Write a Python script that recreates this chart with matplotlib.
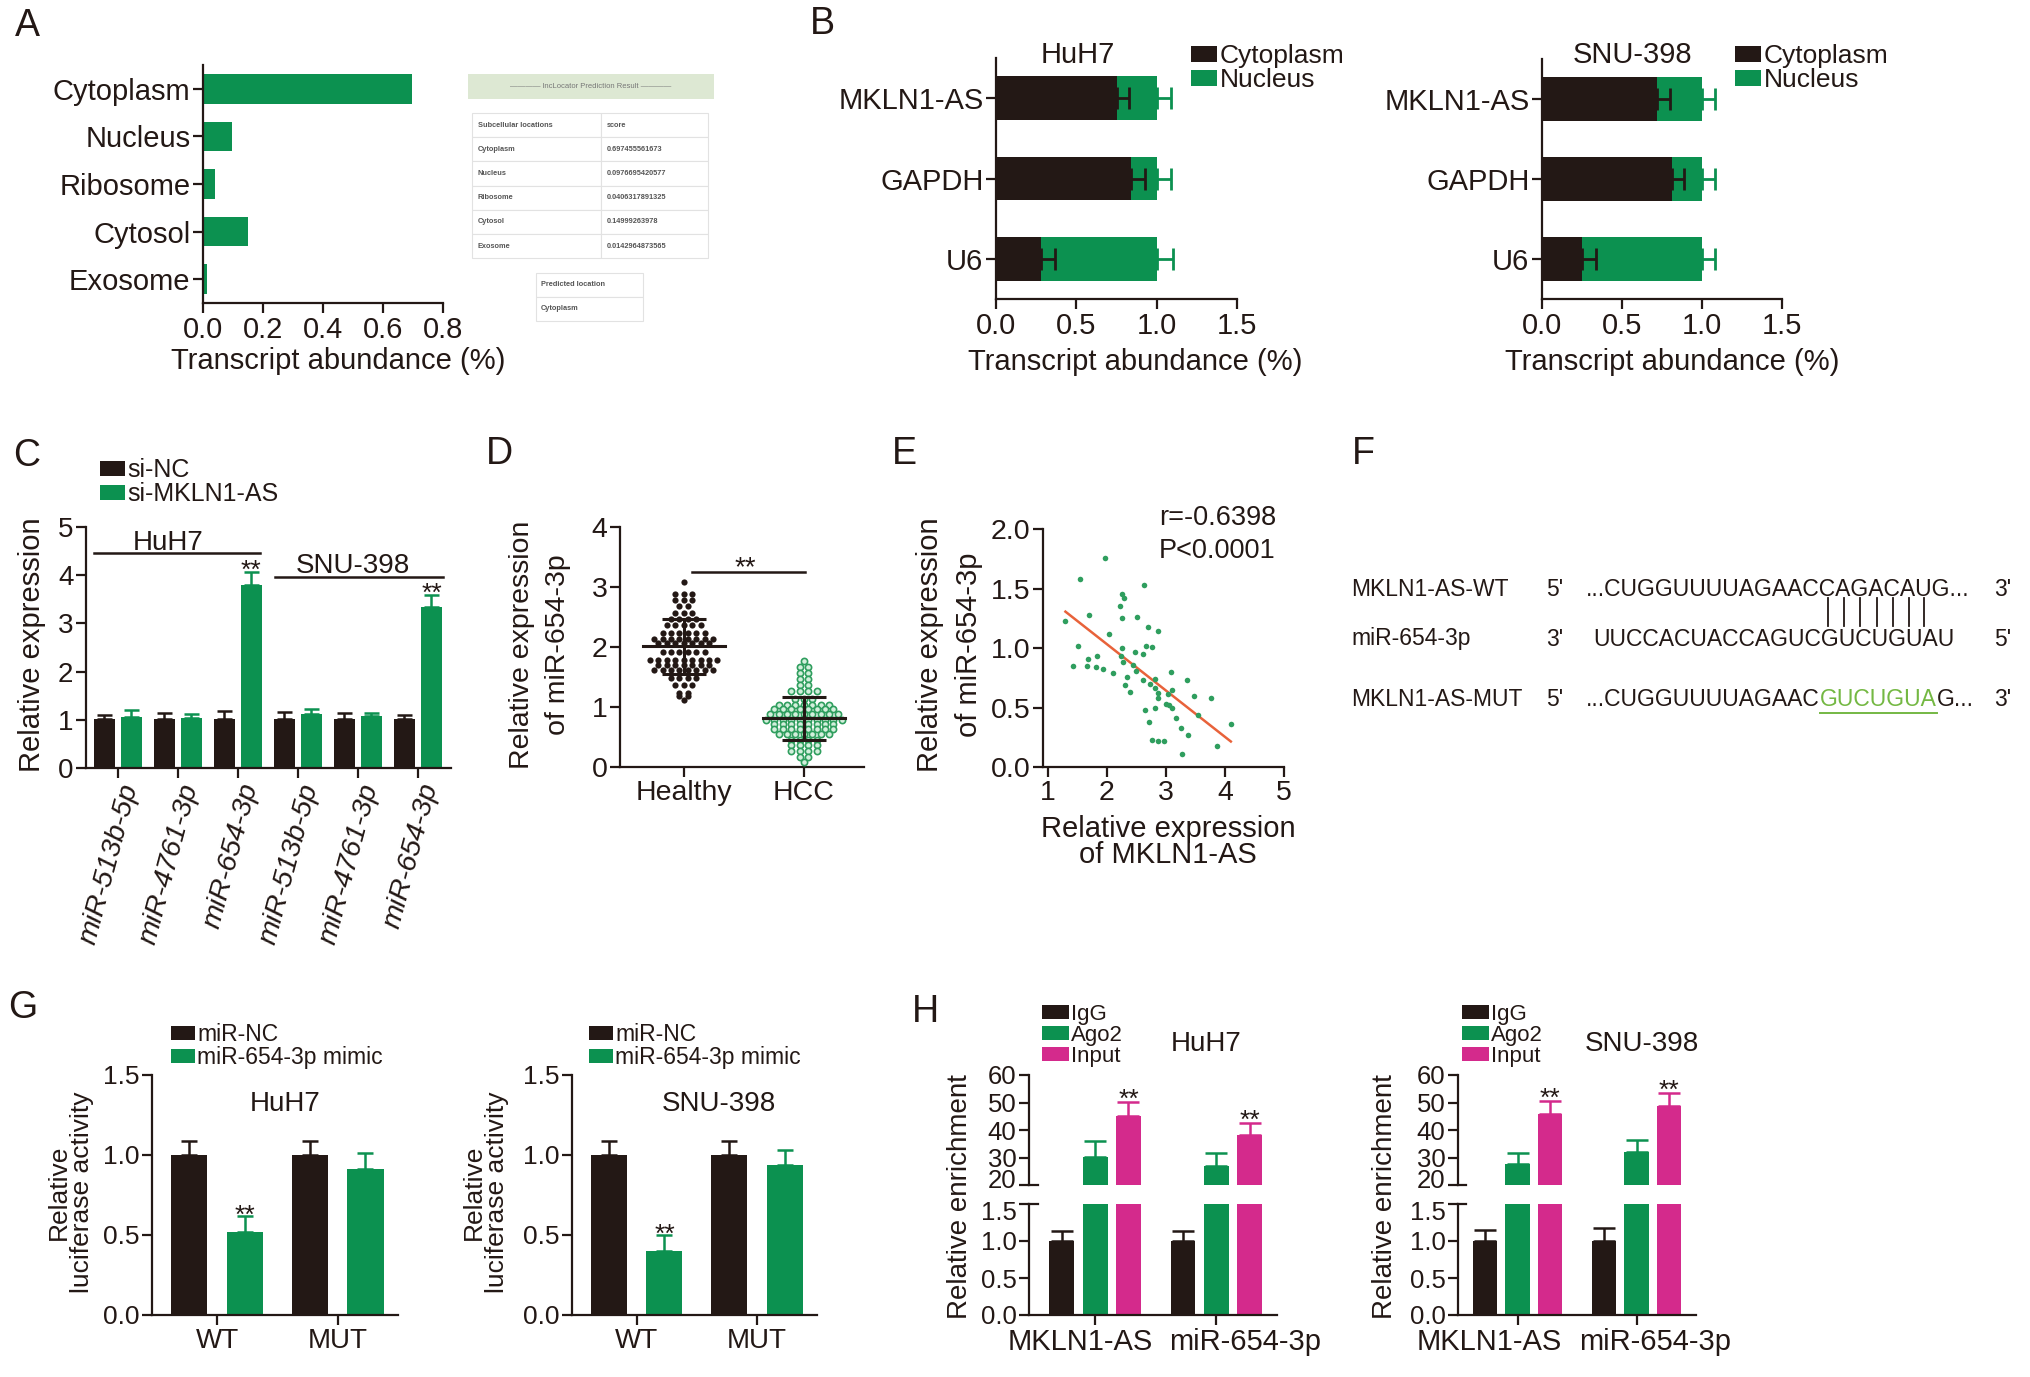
import numpy as np
import matplotlib
matplotlib.use('Agg')
import matplotlib.pyplot as plt
from matplotlib.patches import Rectangle, Patch
from matplotlib.ticker import FormatStrFormatter
from matplotlib.transforms import ScaledTranslation

W, H = 2031, 1377
INK = '#231815'
GREEN = '#0c9150'
MAGENTA = '#d42a8c'
LIME = '#74b843'
DOT_GREEN = '#2f9e5e'
SANS = 'Liberation Sans'

plt.rcParams['font.family'] = [SANS, 'DejaVu Sans']
plt.rcParams['font.size'] = 19
plt.rcParams['axes.linewidth'] = 1.6
plt.rcParams['axes.edgecolor'] = INK
plt.rcParams['text.color'] = INK
plt.rcParams['axes.labelcolor'] = INK
plt.rcParams['xtick.color'] = INK
plt.rcParams['ytick.color'] = INK

# ---------------- data ----------------
# A  lncLocator prediction
loc_names = ['Cytoplasm', 'Nucleus', 'Ribosome', 'Cytosol', 'Exosome']
loc_scores = [0.697455561673, 0.0976695420577, 0.0406317891325, 0.14999263978, 0.0142964873565]

# B  subcellular fractionation
frac_genes = ['MKLN1-AS', 'GAPDH', 'U6']
huh7_cyto = [0.75, 0.84, 0.28]
huh7_cyto_err = [0.08, 0.09, 0.09]
huh7_nuc = [0.25, 0.16, 0.72]
huh7_nuc_err = [0.09, 0.09, 0.10]
snu_cyto = [0.72, 0.81, 0.25]
snu_cyto_err = [0.08, 0.08, 0.085]
snu_nuc = [0.28, 0.19, 0.75]
snu_nuc_err = [0.08, 0.08, 0.08]

# C  miRNA expression after knockdown
mir_names = ['miR-513b-5p', 'miR-4761-3p', 'miR-654-3p', 'miR-513b-5p', 'miR-4761-3p', 'miR-654-3p']
sinc_expr = [1.02, 1.02, 1.02, 1.02, 1.02, 1.02]
sinc_err = [0.07, 0.13, 0.16, 0.14, 0.13, 0.07]
simk_expr = [1.06, 1.04, 3.79, 1.12, 1.08, 3.35]
simk_err = [0.14, 0.08, 0.27, 0.10, 0.07, 0.24]

# D  miR-654-3p in tissues (rows of the dot plot)
healthy_levels = [3.09, 2.88, 2.78, 2.68, 2.57, 2.46, 2.37, 2.24, 2.14, 2.06, 1.92, 1.79, 1.70, 1.62, 1.48, 1.37, 1.24, 1.18, 1.11]
healthy_counts = [1, 3, 3, 2, 3, 4, 5, 6, 8, 7, 6, 9, 7, 8, 4, 3, 2, 2, 1]
hcc_levels = [1.77, 1.66, 1.56, 1.46, 1.37, 1.27, 1.14, 1.03, 0.96, 0.88, 0.79, 0.72, 0.63, 0.55, 0.45, 0.37, 0.26, 0.17, 0.09]
hcc_counts = [1, 2, 2, 2, 2, 4, 3, 7, 8, 9, 10, 8, 8, 7, 4, 4, 4, 2, 1]
healthy_mean, healthy_sd = 2.01, 0.46
hcc_mean, hcc_sd = 0.81, 0.36

# E  correlation
e_x = [1.97, 1.54, 2.63, 2.25, 2.29, 2.22, 1.70, 2.51, 2.25, 1.30, 2.69, 2.87, 2.03, 1.51, 2.67,
       2.77, 2.25, 2.48, 2.62, 1.69, 1.83, 2.24, 2.28, 1.42, 1.67, 1.82, 1.93, 2.10, 2.44, 2.49,
       3.08, 2.35, 2.61, 2.82, 3.35, 2.73, 2.30, 2.82, 3.11, 2.39, 2.86, 3.03, 3.48, 3.76, 2.86,
       3.00, 3.06, 3.11, 2.82, 2.65, 3.54, 3.17, 2.72, 4.10, 3.25, 3.37, 2.77, 2.87, 2.97, 3.87, 3.28]
e_y = [1.76, 1.58, 1.53, 1.45, 1.42, 1.35, 1.28, 1.26, 1.25, 1.23, 1.18, 1.14, 1.12, 1.02, 1.02,
       1.01, 1.00, 0.97, 0.95, 0.91, 0.93, 0.93, 0.88, 0.85, 0.85, 0.84, 0.82, 0.79, 0.86, 0.81,
       0.80, 0.76, 0.73, 0.74, 0.73, 0.70, 0.69, 0.66, 0.65, 0.63, 0.62, 0.61, 0.60, 0.58, 0.58,
       0.53, 0.52, 0.50, 0.50, 0.48, 0.44, 0.41, 0.38, 0.36, 0.33, 0.27, 0.23, 0.22, 0.22, 0.18, 0.11]

# F  binding site
wt_pre, wt_site, wt_post = '...CUGGUUUUAGAAC', 'CAGACAU', 'G...'
mut_site = 'GUCUGUA'
mir_seq = 'UUCCACUACCAGUCGUCUGUAU'

# G  luciferase
luc_groups = ['WT', 'MUT']
huh7_mirnc, huh7_mirnc_err = [1.0, 1.0], [0.09, 0.09]
huh7_mimic, huh7_mimic_err = [0.52, 0.91], [0.10, 0.10]
snu_mirnc, snu_mirnc_err = [1.0, 1.0], [0.09, 0.09]
snu_mimic, snu_mimic_err = [0.40, 0.94], [0.10, 0.09]

# H  RIP
rip_targets = ['MKLN1-AS', 'miR-654-3p']
huh7_igg, huh7_igg_err = [1.0, 1.0], [0.13, 0.14]
huh7_ago2, huh7_ago2_err = [30.3, 26.9], [5.8, 4.6]
huh7_input, huh7_input_err = [45.2, 38.2], [5.1, 4.5]
snu_igg, snu_igg_err = [1.0, 1.0], [0.15, 0.17]
snu_ago2, snu_ago2_err = [27.5, 32.0], [4.3, 4.5]
snu_input, snu_input_err = [45.8, 48.8], [4.6, 4.6]

# ---------------- helpers ----------------
fig = plt.figure(figsize=(W / 100, H / 100), dpi=100)
ov = fig.add_axes([0, 0, 1, 1])
ov.set_xlim(0, W)
ov.set_ylim(H, 0)
ov.axis('off')


def px_axes(x0, y0, x1, y1):
    return fig.add_axes([x0 / W, 1 - y1 / H, (x1 - x0) / W, (y1 - y0) / H])


def clean(ax, size=19):
    ax.spines[['top', 'right']].set_visible(False)
    ax.tick_params(width=1.6, length=7, pad=2, labelsize=size)


def put_label(ax, which, text, cx, cy, **kw):
    bb = ax.get_position()
    fx = (cx / W - bb.x0) / bb.width
    fy = ((1 - cy / H) - bb.y0) / bb.height
    if which == 'y':
        ax.set_ylabel(text, va='center', ha='center', multialignment='center', **kw)
        ax.yaxis.set_label_coords(fx, fy)
    else:
        ax.set_xlabel(text, va='center', ha='center', multialignment='center', **kw)
        ax.xaxis.set_label_coords(fx, fy)


def patch_legend(labels, colors, x, y, size, spacing=0.0, hl=0.9, hh=0.55):
    handles = [Patch(facecolor=c, edgecolor='none') for c in colors]
    fig.legend(handles, labels, loc='upper left', bbox_to_anchor=(x / W, 1 - y / H),
               frameon=False, borderpad=0, borderaxespad=0, handlelength=hl,
               handleheight=hh, handletextpad=0.1, labelspacing=spacing,
               prop={'family': SANS, 'size': size})


def one_sided(ax, x, y, err, color, capsize, lw=1.8, horizontal=False):
    zero = np.zeros(len(err))
    if horizontal:
        ax.errorbar(x, y, xerr=[zero, err], fmt='none', ecolor=color,
                    elinewidth=lw, capsize=capsize, capthick=lw)
    else:
        ax.errorbar(x, y, yerr=[zero, err], fmt='none', ecolor=color,
                    elinewidth=lw, capsize=capsize, capthick=lw)


def swarm_x(counts, center, dx):
    xs = []
    for n in counts:
        xs.extend(center + (np.arange(n) - (n - 1) / 2) * dx)
    return np.array(xs)


def nudge(label, dx_px=0, dy_px=0):
    label.set_transform(label.get_transform() +
                        ScaledTranslation(dx_px / 100, dy_px / 100, fig.dpi_scale_trans))


# panel letters
letters = {'A': (15, 8), 'B': (810, 6), 'C': (13, 438), 'D': (486, 436), 'E': (892, 436),
           'F': (1352, 436), 'G': (8, 990), 'H': (912, 994)}
for k, (lx, ly) in letters.items():
    ov.text(lx, ly, k, fontsize=27, va='top', ha='left')

# ---------------- A ----------------
axA = px_axes(203, 65, 443, 303)
ya = np.arange(len(loc_names))
axA.barh(ya, loc_scores, height=0.62, color=GREEN)
axA.set_ylim(len(loc_names) - 0.5, -0.5)
axA.set_xlim(0, 0.8)
axA.set_xticks([0, 0.2, 0.4, 0.6, 0.8])
axA.xaxis.set_major_formatter(FormatStrFormatter('%.1f'))
axA.set_yticks(ya, loc_names)
clean(axA, 21)
put_label(axA, 'x', 'Transcript abundance (%)', 338, 361, fontsize=21)

# lncLocator table
ov.add_patch(Rectangle((468, 74), 246, 25, facecolor='#dde8d3', edgecolor='none'))
ov.text(591, 86.5, '———— lncLocator Prediction Result ————', fontsize=5.5,
        color='#777777', ha='center', va='center')
rows = [('Subcellular locations', 'score')] + [(n, str(s)) for n, s in zip(loc_names, loc_scores)]
rh = 24.2
for i, (c1, c2) in enumerate(rows):
    y0 = 113 + i * rh
    ov.add_patch(Rectangle((472, y0), 129, rh, facecolor='white', edgecolor='#e2e2e2', lw=0.8))
    ov.add_patch(Rectangle((601, y0), 107, rh, facecolor='white', edgecolor='#e2e2e2', lw=0.8))
    ov.text(478, y0 + rh / 2, c1, fontsize=5.3, fontweight='bold', color='#555555', va='center')
    ov.text(607, y0 + rh / 2, c2, fontsize=5.3, fontweight='bold', color='#555555', va='center')
best = loc_names[int(np.argmax(loc_scores))]
for i, txt in enumerate(['Predicted location', best]):
    y0 = 273 + i * 24
    ov.add_patch(Rectangle((536, y0), 107, 24, facecolor='white', edgecolor='#e2e2e2', lw=0.8))
    ov.text(541, y0 + 12, txt, fontsize=5.3, fontweight='bold', color='#555555', va='center')


# ---------------- B ----------------
def frac_panel(box, title, tpos, cyto, cyto_err, nuc, nuc_err, xlab_c, leg_xy):
    ax = px_axes(*box)
    yb = np.arange(len(frac_genes))
    ax.barh(yb, cyto, height=0.54, color=INK)
    ax.barh(yb, nuc, left=cyto, height=0.54, color=GREEN)
    one_sided(ax, cyto, yb, cyto_err, INK, 8, lw=2, horizontal=True)
    one_sided(ax, np.add(cyto, nuc), yb, nuc_err, GREEN, 8, lw=2, horizontal=True)
    ax.set_ylim(len(frac_genes) - 0.5, -0.5)
    ax.set_xlim(0, 1.5)
    ax.set_xticks([0, 0.5, 1.0, 1.5])
    ax.xaxis.set_major_formatter(FormatStrFormatter('%.1f'))
    ax.set_yticks(yb, frac_genes)
    clean(ax, 21)
    ax.text(tpos[0], tpos[1], title, transform=ax.transAxes, ha='center', va='baseline', fontsize=21)
    put_label(ax, 'x', 'Transcript abundance (%)', *xlab_c, fontsize=21)
    patch_legend(['Cytoplasm', 'Nucleus'], [INK, GREEN], *leg_xy, 19, hl=1.0, hh=0.55)


frac_panel((996, 58, 1237, 299), 'HuH7', (0.34, 0.979), huh7_cyto, huh7_cyto_err,
           huh7_nuc, huh7_nuc_err, (1135, 362), (1191, 44))
frac_panel((1542, 59, 1782, 299), 'SNU-398', (0.375, 0.983), snu_cyto, snu_cyto_err,
           snu_nuc, snu_nuc_err, (1672, 362), (1735, 44))

# ---------------- C ----------------
axC = px_axes(86, 527, 451, 768)
xc = np.arange(len(mir_names))
axC.bar(xc - 0.225, sinc_expr, 0.35, color=INK)
axC.bar(xc + 0.225, simk_expr, 0.35, color=GREEN)
one_sided(axC, xc - 0.225, sinc_expr, sinc_err, INK, 5.4)
one_sided(axC, xc + 0.225, simk_expr, simk_err, GREEN, 5.4)
axC.set_xlim(-0.53, 5.55)
axC.set_ylim(0, 5)
axC.set_yticks(range(6))
axC.set_xticks(xc, mir_names, rotation=75, ha='right', rotation_mode='anchor', fontstyle='italic')
clean(axC, 20)
axC.tick_params(axis='x', labelsize=20.5)
axC.plot([-0.4, 2.37], [4.46, 4.46], color=INK, lw=1.8)
axC.text(0.83, 4.52, 'HuH7', ha='center', va='baseline', fontsize=20)
axC.plot([2.62, 5.42], [3.96, 3.96], color=INK, lw=1.8)
axC.text(3.92, 4.05, 'SNU-398', ha='center', va='baseline', fontsize=20)
for i in (2, 5):
    axC.text(xc[i] + 0.225, simk_expr[i] + simk_err[i] + 0.02, '**', ha='center', va='center', fontsize=19)
put_label(axC, 'y', 'Relative expression', 32, 645, fontsize=21)
patch_legend(['si-NC', 'si-MKLN1-AS'], [INK, GREEN], 100, 458, 18, hl=1.0, hh=0.55)

# ---------------- D ----------------
axD = px_axes(620, 527, 864, 767)
hy = np.repeat(healthy_levels, healthy_counts)
hx = swarm_x(healthy_counts, 0, 0.07)
cy = np.repeat(hcc_levels, hcc_counts)
cx = swarm_x(hcc_counts, 1, 0.07)
axD.scatter(hx, hy, s=20, color=INK, linewidths=0, zorder=3)
axD.scatter(cx, cy, s=20, facecolor='#d3efdc', edgecolor=DOT_GREEN, linewidths=1.2, zorder=3)
for x0, m, sd in ((0, healthy_mean, healthy_sd), (1, hcc_mean, hcc_sd)):
    axD.plot([x0 - 0.34, x0 + 0.34], [m, m], color=INK, lw=2.2, zorder=4)
    axD.errorbar([x0], [m], yerr=[sd], fmt='none', ecolor=INK, elinewidth=2.2,
                 capsize=15.5, capthick=2.2, zorder=4)
axD.plot([0.07, 1.01], [3.25, 3.25], color=INK, lw=1.8)
axD.text(0.51, 3.31, '**', ha='center', va='center', fontsize=20)
axD.set_xlim(-0.53, 1.5)
axD.set_ylim(0, 4)
axD.set_yticks(range(5))
axD.set_xticks([0, 1], ['Healthy', 'HCC'])
clean(axD, 20.5)
put_label(axD, 'y', 'Relative expression\nof miR-654-3p', 540, 645, fontsize=20.5, linespacing=1.5)

# ---------------- E ----------------
axE = px_axes(1043, 529, 1284, 767)
axE.scatter(e_x, e_y, s=16, color=DOT_GREEN, linewidths=0, zorder=3)
k, b = np.polyfit(e_x, e_y, 1)
fx = np.array([min(e_x), max(e_x)])
axE.plot(fx, k * fx + b, color='#e8623a', lw=1.8, zorder=2)
axE.set_xlim(0.92, 5)
axE.set_ylim(0, 2)
axE.set_xticks(range(1, 6))
axE.set_yticks([0, 0.5, 1.0, 1.5, 2.0])
axE.yaxis.set_major_formatter(FormatStrFormatter('%.1f'))
clean(axE, 20.5)
axE.text(0.48, 1.017, 'r=-0.6398', transform=axE.transAxes, va='baseline', fontsize=19.5)
axE.text(0.48, 0.878, 'P<0.0001', transform=axE.transAxes, va='baseline', fontsize=19.5)
put_label(axE, 'y', 'Relative expression\nof miR-654-3p', 950, 645, fontsize=21, linespacing=1.5)
put_label(axE, 'x', 'Relative expression\nof MKLN1-AS', 1168, 842, fontsize=21, linespacing=0.95)

# ---------------- F ----------------
renderer = fig.canvas.get_renderer()
fs_F = 16.5


def text_w(s):
    t = ov.text(0, 0, s, fontsize=fs_F)
    w = t.get_window_extent(renderer).width
    t.remove()
    return w


f_rows = [(589, 'MKLN1-AS-WT', "5'", "3'"), (639, 'miR-654-3p', "3'", "5'"), (700, 'MKLN1-AS-MUT', "5'", "3'")]
for yy, name, e1, e2 in f_rows:
    ov.text(1351, yy, name, fontsize=fs_F, va='center')
    ov.text(1546, yy, e1, fontsize=fs_F, va='center')
    ov.text(1994, yy, e2, fontsize=fs_F, va='center')
seq_x0 = 1586
ov.text(seq_x0, 589, wt_pre + wt_site + wt_post, fontsize=fs_F, va='center')
ov.text(seq_x0 + 7, 639, mir_seq, fontsize=fs_F, va='center')
for i in range(len(wt_site)):
    bx = seq_x0 + text_w(wt_pre + wt_site[:i]) + text_w(wt_site[i]) / 2
    ov.plot([bx, bx], [598, 626], color=INK, lw=1.3)
ov.text(seq_x0, 700, wt_pre, fontsize=fs_F, va='center')
gx = seq_x0 + text_w(wt_pre)
gw = text_w(mut_site)
ov.text(gx, 700, mut_site, fontsize=fs_F, va='center', color=LIME)
ov.plot([gx, gx + gw], [713, 713], color=LIME, lw=1.4)
ov.text(gx + gw, 700, wt_post, fontsize=fs_F, va='center')


# ---------------- G ----------------
def luc_panel(box, title, tpos, nc, nc_err, mim, mim_err, leg_xy, ylab_cx):
    ax = px_axes(*box)
    xg = np.arange(len(luc_groups))
    ax.bar(xg - 0.23, nc, 0.30, color=INK)
    ax.bar(xg + 0.23, mim, 0.30, color=GREEN)
    one_sided(ax, xg - 0.23, nc, nc_err, INK, 6)
    one_sided(ax, xg + 0.23, mim, mim_err, GREEN, 6)
    ax.set_xlim(-0.54, 1.5)
    ax.set_ylim(0, 1.5)
    ax.set_yticks([0, 0.5, 1.0, 1.5])
    ax.yaxis.set_major_formatter(FormatStrFormatter('%.1f'))
    ax.set_xticks(xg, luc_groups)
    clean(ax, 19)
    ax.tick_params(axis='x', labelsize=20)
    ax.text(tpos[0], tpos[1], title, transform=ax.transAxes, ha='center', va='center', fontsize=20)
    ax.text(xg[0] + 0.23, mim[0] + mim_err[0], '**', ha='center', va='center', fontsize=19)
    put_label(ax, 'y', 'Relative\nluciferase activity', ylab_cx, 1192, fontsize=19, linespacing=0.95)
    patch_legend(['miR-NC', 'miR-654-3p mimic'], [INK, GREEN], *leg_xy, 16.5, hl=1.05, hh=0.6)


luc_panel((152, 1075, 398, 1315), 'HuH7', (0.54, 0.88), huh7_mirnc, huh7_mirnc_err,
          huh7_mimic, huh7_mimic_err, (171, 1023), 70)
luc_panel((572, 1075, 817, 1315), 'SNU-398', (0.6, 0.88), snu_mirnc, snu_mirnc_err,
          snu_mimic, snu_mimic_err, (589, 1023), 485)


# ---------------- H ----------------
def rip_panel(x0, x1, xlim, title, tpos, igg, igg_err, ago, ago_err, inp, inp_err,
              leg_xy, ylab_cx, lab_shift):
    top = px_axes(x0, 1075, x1, 1185)
    bot = px_axes(x0, 1204, x1, 1315)
    xg = np.arange(len(rip_targets))
    off, w = 0.275, 0.205
    for ax in (top, bot):
        ax.bar(xg - off, igg, w, color=INK)
        ax.bar(xg, ago, w, color=GREEN)
        ax.bar(xg + off, inp, w, color=MAGENTA)
        one_sided(ax, xg - off, igg, igg_err, INK, 8)
        one_sided(ax, xg, ago, ago_err, GREEN, 8)
        one_sided(ax, xg + off, inp, inp_err, MAGENTA, 8)
        ax.set_xlim(*xlim)
        clean(ax, 18.5)
    top.set_ylim(20, 60)
    top.set_yticks([20, 30, 40, 50, 60])
    top.spines['bottom'].set_visible(False)
    top.set_xticks([])
    top.plot([0, 0.035], [0, 0], transform=top.transAxes, color=INK, lw=1.6, clip_on=False)
    bot.set_ylim(0, 1.5)
    bot.set_yticks([0, 0.5, 1.0, 1.5])
    bot.yaxis.set_major_formatter(FormatStrFormatter('%.1f'))
    bot.set_xticks(xg, rip_targets)
    bot.tick_params(axis='x', labelsize=21)
    for lab, dx in zip(bot.get_xticklabels(), lab_shift):
        nudge(lab, dx_px=dx)
    # keep the labels at the axis break apart
    nudge(top.get_yticklabels()[0], dy_px=6)
    nudge(bot.get_yticklabels()[-1], dy_px=-6)
    bot.plot([0, 0.035], [1, 1], transform=bot.transAxes, color=INK, lw=1.6, clip_on=False)
    for i in xg:
        top.text(i + off, inp[i] + inp_err[i] + 0.8, '**', ha='center', va='center', fontsize=19)
    ov.text(tpos[0], tpos[1], title, ha='center', va='center', fontsize=20)
    put_label(bot, 'y', 'Relative enrichment', ylab_cx, 1197, fontsize=20)
    patch_legend(['IgG', 'Ago2', 'Input'], [INK, GREEN, MAGENTA], *leg_xy, 16,
                 hl=1.2, hh=0.62)


rip_panel(1029, 1277, (-0.545, 1.5), 'HuH7', (1206, 1044), huh7_igg, huh7_igg_err,
          huh7_ago2, huh7_ago2_err, huh7_input, huh7_input_err, (1042, 1004), 960, (-15, 29))
rip_panel(1458, 1696, (-0.5, 1.5), 'SNU-398', (1642, 1044), snu_igg, snu_igg_err,
          snu_ago2, snu_ago2_err, snu_input, snu_input_err, (1462, 1004), 1385, (-28, 19))

fig.savefig('out.png', dpi=100)
